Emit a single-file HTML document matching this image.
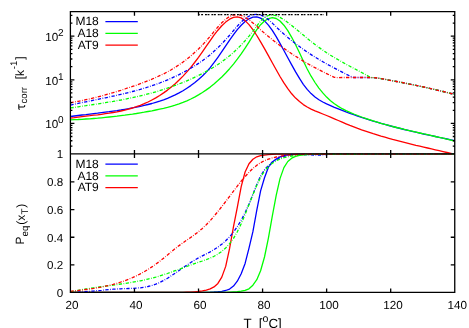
<!DOCTYPE html>
<html><head><meta charset="utf-8"><title>plot</title>
<style>html,body{margin:0;padding:0;background:#fff;overflow:hidden}svg{display:block;will-change:transform}text{font-family:"Liberation Sans",sans-serif;fill:#000;text-rendering:geometricPrecision}</style>
</head><body>
<svg width="469" height="328" viewBox="0 0 469 328">
<rect width="469" height="328" fill="#fff"/>
<defs><clipPath id="cu"><rect x="70.4" y="11.7" width="384.35" height="142.25"/></clipPath><clipPath id="cl"><rect x="70.4" y="153.45" width="384.35" height="139.45"/></clipPath></defs>
<g id="upper">
<path d="M70.4,116.5 L74.3,116.0 L78.2,115.5 L82.0,115.0 L85.9,114.6 L89.8,114.1 L93.7,113.6 L97.6,113.2 L101.5,112.7 L105.3,112.2 L109.2,111.7 L113.1,111.1 L117.0,110.6 L120.9,110.0 L124.8,109.3 L128.6,108.7 L132.5,107.9 L136.4,107.2 L140.3,106.3 L144.2,105.4 L148.0,104.5 L151.9,103.5 L155.8,102.3 L159.7,101.1 L163.6,99.8 L167.5,98.3 L171.3,96.7 L175.2,94.9 L179.1,92.9 L183.0,90.7 L186.9,88.2 L190.8,85.6 L194.6,82.7 L198.5,79.5 L202.4,76.0 L206.3,72.1 L210.2,67.7 L214.0,62.7 L217.9,57.3 L221.8,51.7 L225.7,45.9 L229.6,40.1 L233.5,34.7 L237.3,29.6 L241.2,25.2 L245.1,21.5 L249.0,18.8 L252.9,17.2 L256.8,16.9 L260.6,18.1 L264.5,20.9 L268.4,25.1 L272.3,30.4 L276.2,36.6 L280.0,43.4 L283.9,50.5 L287.8,57.8 L291.7,64.9 L295.6,71.9 L299.5,78.4 L303.3,84.3 L307.2,89.4 L311.1,93.6 L315.0,97.0 L318.9,99.8 L322.8,102.0 L326.6,103.9 L330.5,105.6 L334.4,107.3 L338.3,108.8 L342.2,110.4 L346.0,111.9 L349.9,113.3 L353.8,114.7 L357.7,116.1 L361.6,117.4 L365.5,118.6 L369.3,119.9 L373.2,121.1 L377.1,122.2 L381.0,123.3 L384.9,124.4 L388.8,125.5 L392.6,126.5 L396.5,127.5 L400.4,128.5 L404.3,129.5 L408.2,130.4 L412.0,131.3 L415.9,132.2 L419.8,133.1 L423.7,134.0 L427.6,134.8 L431.5,135.7 L435.3,136.5 L439.2,137.3 L443.1,138.2 L447.0,139.0 L450.9,139.8 L454.8,140.6" fill="none" stroke="#0000ff" stroke-width="1.3" clip-path="url(#cu)" stroke-linejoin="round"/>
<path d="M70.4,119.8 L74.3,119.6 L78.2,119.5 L82.0,119.3 L85.9,119.0 L89.8,118.8 L93.7,118.5 L97.6,118.2 L101.5,117.8 L105.3,117.4 L109.2,117.0 L113.1,116.6 L117.0,116.2 L120.9,115.7 L124.8,115.2 L128.6,114.6 L132.5,114.1 L136.4,113.5 L140.3,112.8 L144.2,112.2 L148.0,111.5 L151.9,110.8 L155.8,110.0 L159.7,109.2 L163.6,108.4 L167.5,107.4 L171.3,106.3 L175.2,105.2 L179.1,103.9 L183.0,102.4 L186.9,100.8 L190.8,99.0 L194.6,97.1 L198.5,94.9 L202.4,92.5 L206.3,89.9 L210.2,87.1 L214.0,84.0 L217.9,80.6 L221.8,77.0 L225.7,73.0 L229.6,68.7 L233.5,64.1 L237.3,59.2 L241.2,53.9 L245.1,48.2 L249.0,42.1 L252.9,35.7 L256.8,29.7 L260.6,24.7 L264.5,21.0 L268.4,18.6 L272.3,17.7 L276.2,18.5 L280.0,21.0 L283.9,25.2 L287.8,30.7 L291.7,37.3 L295.6,44.8 L299.5,52.8 L303.3,61.0 L307.2,69.0 L311.1,76.2 L315.0,82.5 L318.9,88.1 L322.8,92.9 L326.6,97.1 L330.5,100.7 L334.4,103.8 L338.3,106.4 L342.2,108.7 L346.0,110.7 L349.9,112.4 L353.8,114.0 L357.7,115.5 L361.6,117.0 L365.5,118.3 L369.3,119.7 L373.2,120.9 L377.1,122.1 L381.0,123.3 L384.9,124.4 L388.8,125.4 L392.6,126.5 L396.5,127.5 L400.4,128.4 L404.3,129.4 L408.2,130.3 L412.0,131.2 L415.9,132.1 L419.8,133.0 L423.7,133.9 L427.6,134.7 L431.5,135.6 L435.3,136.5 L439.2,137.4 L443.1,138.2 L447.0,139.2 L450.9,140.1 L454.8,141.0" fill="none" stroke="#00ff00" stroke-width="1.3" clip-path="url(#cu)" stroke-linejoin="round"/>
<path d="M70.4,118.2 L74.3,117.7 L78.2,117.1 L82.0,116.6 L85.9,116.1 L89.8,115.7 L93.7,115.2 L97.6,114.8 L101.5,114.3 L105.3,113.7 L109.2,113.2 L113.1,112.5 L117.0,111.8 L120.9,111.0 L124.8,110.1 L128.6,109.1 L132.5,108.0 L136.4,106.7 L140.3,105.3 L144.2,103.7 L148.0,102.0 L151.9,100.0 L155.8,97.9 L159.7,95.5 L163.6,92.9 L167.5,90.1 L171.3,87.0 L175.2,83.7 L179.1,80.0 L183.0,76.1 L186.9,71.9 L190.8,67.3 L194.6,62.5 L198.5,57.3 L202.4,51.8 L206.3,46.2 L210.2,40.6 L214.0,35.2 L217.9,30.2 L221.8,25.8 L225.7,22.1 L229.6,19.2 L233.5,17.4 L237.3,16.9 L241.2,17.9 L245.1,20.6 L249.0,24.6 L252.9,29.7 L256.8,35.5 L260.6,41.8 L264.5,48.6 L268.4,55.6 L272.3,62.7 L276.2,69.7 L280.0,76.5 L283.9,82.9 L287.8,88.7 L291.7,93.8 L295.6,98.1 L299.5,101.6 L303.3,104.6 L307.2,107.0 L311.1,109.1 L315.0,110.9 L318.9,112.4 L322.8,114.0 L326.6,115.5 L330.5,117.1 L334.4,118.8 L338.3,120.5 L342.2,122.2 L346.0,123.8 L349.9,125.4 L353.8,126.9 L357.7,128.4 L361.6,129.8 L365.5,131.1 L369.3,132.4 L373.2,133.7 L377.1,134.9 L381.0,136.1 L384.9,137.2 L388.8,138.3 L392.6,139.4 L396.5,140.4 L400.4,141.4 L404.3,142.4 L408.2,143.4 L412.0,144.3 L415.9,145.3 L419.8,146.2 L423.7,147.1 L427.6,148.0 L431.5,148.9 L435.3,149.8 L439.2,150.7 L443.1,151.6 L447.0,152.5 L450.9,153.4 L454.8,154.3" fill="none" stroke="#ff0000" stroke-width="1.3" clip-path="url(#cu)" stroke-linejoin="round"/>
<path d="M70.4,105.1 L74.3,104.2 L78.2,103.4 L82.0,102.6 L85.9,101.8 L89.8,101.0 L93.7,100.2 L97.6,99.4 L101.5,98.6 L105.3,97.8 L109.2,97.0 L113.1,96.1 L117.0,95.3 L120.9,94.4 L124.8,93.5 L128.6,92.5 L132.5,91.5 L136.4,90.5 L140.3,89.4 L144.2,88.2 L148.0,87.0 L151.9,85.7 L155.8,84.4 L159.7,83.0 L163.6,81.5 L167.5,79.9 L171.3,78.2 L175.2,76.4 L179.1,74.6 L183.0,72.6 L186.9,70.5 L190.8,68.3 L194.6,65.9 L198.5,63.4 L202.4,60.7 L206.3,57.8 L210.2,54.7 L214.0,51.3 L217.9,47.7 L221.8,43.8 L225.7,39.6 L229.6,35.2 L233.5,30.6 L237.3,26.1 L241.2,22.0 L245.1,18.6 L249.0,16.2 L252.9,14.7 L256.8,14.3 L260.6,15.0 L264.5,16.8 L268.4,19.6 L272.3,23.1 L276.2,26.9 L280.0,30.5 L283.9,34.1 L287.8,37.4 L291.7,40.7 L295.6,43.7 L299.5,46.6 L303.3,49.4 L307.2,52.1 L311.1,54.6 L315.0,57.1 L318.9,59.4 L322.8,61.7 L326.6,63.9 L330.5,66.0 L334.4,68.1 L338.3,70.1 L342.2,72.1 L346.0,74.1 L349.9,76.0 L352.3,77.2 L353.8,77.5 L357.7,77.5 L361.6,77.5 L365.5,77.5 L369.3,77.5 L373.2,77.6 L377.1,78.0 L381.0,78.6 L384.9,79.3 L388.8,80.1 L392.6,80.8 L396.5,81.5 L400.4,82.2 L404.3,83.0 L408.2,83.8 L412.0,84.6 L415.9,85.4 L419.8,86.2 L423.7,87.0 L427.6,87.9 L431.5,88.8 L435.3,89.7 L439.2,90.6 L443.1,91.5 L447.0,92.5 L450.9,93.5 L454.8,94.5" fill="none" stroke="#0000ff" stroke-width="1.3" stroke-dasharray="3.3 1.5 0.7 1.5" clip-path="url(#cu)" stroke-linejoin="round"/>
<path d="M70.4,107.9 L74.3,107.4 L78.2,106.8 L82.0,106.2 L85.9,105.7 L89.8,105.1 L93.7,104.5 L97.6,103.9 L101.5,103.3 L105.3,102.7 L109.2,102.0 L113.1,101.4 L117.0,100.7 L120.9,100.0 L124.8,99.2 L128.6,98.4 L132.5,97.6 L136.4,96.7 L140.3,95.8 L144.2,94.9 L148.0,93.9 L151.9,92.9 L155.8,91.8 L159.7,90.6 L163.6,89.4 L167.5,88.1 L171.3,86.8 L175.2,85.4 L179.1,83.9 L183.0,82.4 L186.9,80.8 L190.8,79.1 L194.6,77.3 L198.5,75.4 L202.4,73.5 L206.3,71.4 L210.2,69.3 L214.0,67.0 L217.9,64.5 L221.8,61.8 L225.7,58.9 L229.6,55.8 L233.5,52.5 L237.3,48.8 L241.2,44.9 L245.1,40.7 L249.0,36.1 L252.9,31.2 L256.8,26.0 L260.6,21.1 L264.5,17.4 L268.4,15.4 L272.3,14.9 L276.2,15.7 L280.0,17.4 L283.9,19.7 L287.8,22.6 L291.7,25.6 L295.6,28.7 L299.5,31.9 L303.3,35.1 L307.2,38.3 L311.1,41.5 L315.0,44.5 L318.9,47.4 L322.8,50.1 L326.6,52.7 L330.5,55.2 L334.4,57.5 L338.3,59.8 L342.2,62.0 L346.0,64.2 L349.9,66.3 L353.8,68.3 L357.7,70.4 L361.6,72.5 L365.5,74.6 L369.3,76.7 L370.8,77.5 L373.2,77.6 L377.1,78.0 L381.0,78.6 L384.9,79.3 L388.8,80.1 L392.6,80.8 L396.5,81.5 L400.4,82.2 L404.3,83.0 L408.2,83.8 L412.0,84.6 L415.9,85.4 L419.8,86.2 L423.7,87.0 L427.6,87.9 L431.5,88.8 L435.3,89.7 L439.2,90.6 L443.1,91.5 L447.0,92.5 L450.9,93.5 L454.8,94.5" fill="none" stroke="#00ff00" stroke-width="1.3" stroke-dasharray="3.3 1.5 0.7 1.5" clip-path="url(#cu)" stroke-linejoin="round"/>
<path d="M70.4,102.7 L74.3,102.0 L78.2,101.3 L82.0,100.5 L85.9,99.7 L89.8,98.9 L93.7,97.9 L97.6,97.0 L101.5,96.0 L105.3,94.9 L109.2,93.8 L113.1,92.7 L117.0,91.5 L120.9,90.3 L124.8,89.0 L128.6,87.7 L132.5,86.4 L136.4,85.1 L140.3,83.7 L144.2,82.2 L148.0,80.7 L151.9,79.2 L155.8,77.5 L159.7,75.7 L163.6,73.9 L167.5,71.8 L171.3,69.7 L175.2,67.3 L179.1,64.8 L183.0,62.1 L186.9,59.2 L190.8,56.0 L194.6,52.6 L198.5,49.0 L202.4,45.0 L206.3,40.8 L210.2,36.3 L214.0,31.6 L217.9,27.0 L221.8,22.8 L225.7,19.2 L229.6,16.5 L233.5,15.0 L237.3,14.7 L241.2,15.4 L245.1,17.2 L249.0,19.8 L252.9,22.9 L256.8,26.3 L260.6,29.8 L264.5,33.2 L268.4,36.4 L272.3,39.6 L276.2,42.6 L280.0,45.6 L283.9,48.4 L287.8,51.1 L291.7,53.8 L295.6,56.3 L299.5,58.7 L303.3,61.1 L307.2,63.4 L311.1,65.5 L315.0,67.7 L318.9,69.7 L322.8,71.7 L326.6,73.6 L330.5,75.5 L334.4,77.3 L336.0,77.6 L338.3,77.6 L342.2,77.5 L346.0,77.5 L349.9,77.5 L353.8,77.5 L357.7,77.5 L361.6,77.5 L365.5,77.5 L369.3,77.5 L373.2,77.6 L377.1,78.0 L381.0,78.6 L384.9,79.3 L388.8,80.1 L392.6,80.8 L396.5,81.5 L400.4,82.2 L404.3,83.0 L408.2,83.8 L412.0,84.6 L415.9,85.4 L419.8,86.2 L423.7,87.0 L427.6,87.9 L431.5,88.8 L435.3,89.7 L439.2,90.6 L443.1,91.5 L447.0,92.5 L450.9,93.5 L454.8,94.5" fill="none" stroke="#ff0000" stroke-width="1.3" stroke-dasharray="3.3 1.5 0.7 1.5" clip-path="url(#cu)" stroke-linejoin="round"/>
</g>
<path d="M198.7,14.5 h1" stroke="#000" stroke-width="1.25" fill="none"/>
<path d="M201.15,14.5 H323.43" stroke="#000" stroke-width="1.25" stroke-dasharray="1.9 1.95 1.9 0.65" fill="none"/>
<g id="lower">
<path d="M70.4,292.4 L74.3,292.4 L78.2,292.4 L82.0,292.4 L85.9,292.4 L89.8,292.4 L93.7,292.4 L97.6,292.4 L101.5,292.4 L105.3,292.4 L109.2,292.4 L113.1,292.4 L117.0,292.4 L120.9,292.4 L124.8,292.4 L128.6,292.4 L132.5,292.4 L136.4,292.4 L140.3,292.4 L144.2,292.4 L148.0,292.4 L151.9,292.4 L155.8,292.4 L159.7,292.4 L163.6,292.4 L167.5,292.4 L171.3,292.4 L175.2,292.3 L179.1,292.3 L183.0,292.3 L186.9,292.3 L190.8,292.3 L194.6,292.3 L198.5,292.3 L202.4,292.3 L206.3,292.3 L210.2,292.2 L214.0,292.0 L217.9,291.7 L221.8,291.3 L225.7,290.5 L229.6,289.1 L233.5,286.1 L237.3,281.2 L241.2,273.7 L245.1,263.4 L249.0,248.1 L252.9,231.7 L256.8,210.2 L260.6,190.9 L264.5,177.8 L268.4,167.2 L272.3,162.0 L276.2,159.0 L280.0,156.9 L283.9,155.6 L287.8,154.9 L291.7,154.5 L295.6,154.2 L299.5,154.2 L303.3,154.1 L307.2,154.1 L311.1,154.0 L315.0,154.0 L318.9,154.0 L322.8,154.0 L326.6,154.0 L330.5,153.9 L334.4,153.9 L338.3,153.9 L342.2,153.9 L346.0,153.9 L349.9,153.9 L353.8,153.9 L357.7,153.9 L361.6,153.9 L365.5,153.9 L369.3,153.9 L373.2,153.9 L377.1,153.9 L381.0,153.9 L384.9,153.9 L388.8,153.9 L392.6,153.9 L396.5,153.9 L400.4,153.9 L404.3,153.9 L408.2,153.9 L412.0,153.9 L415.9,153.9 L419.8,153.9 L423.7,153.9 L427.6,153.9 L431.5,153.9 L435.3,153.9 L439.2,153.9 L443.1,153.9 L447.0,153.9 L450.9,153.9 L454.8,153.9" fill="none" stroke="#0000ff" stroke-width="1.3" clip-path="url(#cl)" stroke-linejoin="round"/>
<path d="M70.4,292.4 L74.3,292.4 L78.2,292.4 L82.0,292.4 L85.9,292.4 L89.8,292.4 L93.7,292.4 L97.6,292.4 L101.5,292.4 L105.3,292.4 L109.2,292.4 L113.1,292.4 L117.0,292.4 L120.9,292.4 L124.8,292.4 L128.6,292.4 L132.5,292.4 L136.4,292.4 L140.3,292.4 L144.2,292.4 L148.0,292.4 L151.9,292.4 L155.8,292.4 L159.7,292.4 L163.6,292.4 L167.5,292.4 L171.3,292.4 L175.2,292.4 L179.1,292.4 L183.0,292.4 L186.9,292.4 L190.8,292.3 L194.6,292.3 L198.5,292.3 L202.4,292.3 L206.3,292.3 L210.2,292.3 L214.0,292.3 L217.9,292.3 L221.8,292.3 L225.7,292.3 L229.6,292.1 L233.5,291.9 L237.3,291.7 L241.2,291.2 L245.1,290.4 L249.0,288.8 L252.9,285.2 L256.8,279.7 L260.6,270.8 L264.5,257.0 L268.4,238.1 L272.3,216.2 L276.2,195.4 L280.0,178.6 L283.9,167.6 L287.8,161.5 L291.7,158.2 L295.6,156.3 L299.5,155.4 L303.3,154.9 L307.2,154.6 L311.1,154.3 L315.0,154.2 L318.9,154.1 L322.8,154.0 L326.6,154.0 L330.5,153.9 L334.4,153.9 L338.3,153.9 L342.2,153.9 L346.0,153.9 L349.9,153.9 L353.8,153.9 L357.7,153.9 L361.6,153.9 L365.5,153.9 L369.3,153.9 L373.2,153.9 L377.1,153.9 L381.0,153.9 L384.9,153.9 L388.8,153.9 L392.6,153.9 L396.5,153.9 L400.4,153.9 L404.3,153.9 L408.2,153.9 L412.0,153.9 L415.9,153.9 L419.8,153.9 L423.7,153.9 L427.6,153.9 L431.5,153.9 L435.3,153.9 L439.2,153.9 L443.1,153.9 L447.0,153.9 L450.9,153.9 L454.8,153.9" fill="none" stroke="#00ff00" stroke-width="1.3" clip-path="url(#cl)" stroke-linejoin="round"/>
<path d="M70.4,292.4 L74.3,292.4 L78.2,292.4 L82.0,292.4 L85.9,292.4 L89.8,292.4 L93.7,292.4 L97.6,292.4 L101.5,292.4 L105.3,292.4 L109.2,292.4 L113.1,292.4 L117.0,292.4 L120.9,292.4 L124.8,292.4 L128.6,292.4 L132.5,292.4 L136.4,292.4 L140.3,292.4 L144.2,292.4 L148.0,292.4 L151.9,292.4 L155.8,292.4 L159.7,292.3 L163.6,292.3 L167.5,292.3 L171.3,292.3 L175.2,292.3 L179.1,292.3 L183.0,292.3 L186.9,292.2 L190.8,292.1 L194.6,291.8 L198.5,291.5 L202.4,290.9 L206.3,290.1 L210.2,288.9 L214.0,286.9 L217.9,283.4 L221.8,277.1 L225.7,266.4 L229.6,248.4 L233.5,226.6 L237.3,207.3 L241.2,186.7 L245.1,172.0 L249.0,163.7 L252.9,159.2 L256.8,156.8 L260.6,155.7 L264.5,155.1 L268.4,154.6 L272.3,154.3 L276.2,154.2 L280.0,154.2 L283.9,154.1 L287.8,154.1 L291.7,154.1 L295.6,154.1 L299.5,154.0 L303.3,154.0 L307.2,154.0 L311.1,154.0 L315.0,154.0 L318.9,154.0 L322.8,154.0 L326.6,154.0 L330.5,153.9 L334.4,153.9 L338.3,153.9 L342.2,153.9 L346.0,153.9 L349.9,153.9 L353.8,153.9 L357.7,153.9 L361.6,153.9 L365.5,153.9 L369.3,153.9 L373.2,153.9 L377.1,153.9 L381.0,153.9 L384.9,153.9 L388.8,153.9 L392.6,153.9 L396.5,153.9 L400.4,153.9 L404.3,153.9 L408.2,153.9 L412.0,153.9 L415.9,153.9 L419.8,153.9 L423.7,153.9 L427.6,153.9 L431.5,153.9 L435.3,153.9 L439.2,153.9 L443.1,153.9 L447.0,153.9 L450.9,153.9 L454.8,153.9" fill="none" stroke="#ff0000" stroke-width="1.3" clip-path="url(#cl)" stroke-linejoin="round"/>
<path d="M70.4,292.2 L74.3,292.2 L78.2,292.1 L82.0,291.9 L85.9,291.6 L89.8,291.3 L93.7,291.0 L97.6,290.6 L101.5,290.3 L105.3,289.9 L109.2,289.6 L113.1,289.2 L117.0,289.0 L120.9,288.8 L124.8,288.6 L128.6,288.5 L132.5,288.4 L136.4,288.1 L140.3,287.8 L144.2,287.2 L148.0,286.5 L151.9,285.5 L155.8,284.2 L159.7,282.5 L163.6,280.5 L167.5,278.3 L171.3,275.8 L175.2,273.2 L179.1,270.5 L183.0,267.7 L186.9,265.1 L190.8,262.5 L194.6,260.1 L198.5,257.9 L202.4,255.9 L206.3,253.9 L210.2,251.9 L214.0,249.6 L217.9,247.1 L221.8,244.2 L225.7,240.8 L229.6,236.8 L233.5,232.1 L237.3,226.6 L241.2,220.2 L245.1,212.7 L249.0,204.1 L252.9,194.3 L256.8,184.5 L260.6,175.9 L264.5,169.7 L268.4,165.5 L272.3,162.3 L276.2,159.8 L280.0,157.8 L283.9,156.4 L287.8,155.4 L291.7,154.8 L295.6,154.5 L299.5,154.4 L303.3,154.5 L307.2,154.7 L311.1,154.9 L315.0,155.0 L318.9,155.1 L322.8,154.9 L326.6,154.5 L330.0,153.9 L454.5,153.9" fill="none" stroke="#0000ff" stroke-width="1.3" stroke-dasharray="3.3 1.5 0.7 1.5" clip-path="url(#cl)" stroke-linejoin="round"/>
<path d="M70.4,291.9 L74.3,291.1 L78.2,290.3 L82.0,289.6 L85.9,289.0 L89.8,288.4 L93.7,287.8 L97.6,287.2 L101.5,286.7 L105.3,286.2 L109.2,285.6 L113.1,285.1 L117.0,284.6 L120.9,284.0 L124.8,283.5 L128.6,282.9 L132.5,282.2 L136.4,281.5 L140.3,280.8 L144.2,280.0 L148.0,279.1 L151.9,278.1 L155.8,277.1 L159.7,276.0 L163.6,274.7 L167.5,273.5 L171.3,272.1 L175.2,270.7 L179.1,269.3 L183.0,267.9 L186.9,266.4 L190.8,265.0 L194.6,263.6 L198.5,262.3 L202.4,261.0 L206.3,259.6 L210.2,258.1 L214.0,256.3 L217.9,254.1 L221.8,251.4 L225.7,247.9 L229.6,243.7 L233.5,238.4 L237.3,231.8 L241.2,223.8 L245.1,214.5 L249.0,204.6 L252.9,194.6 L256.8,185.3 L260.6,177.3 L264.5,171.1 L268.4,166.5 L272.3,163.3 L276.2,160.8 L280.0,159.0 L283.9,157.7 L287.8,156.7 L291.7,156.0 L295.6,155.4 L299.5,155.0 L303.3,154.6 L307.2,154.4 L311.1,154.2 L315.0,154.1 L318.9,154.1 L322.8,154.0 L326.6,154.0 L330.0,154.0 L454.5,153.9" fill="none" stroke="#00ff00" stroke-width="1.3" stroke-dasharray="3.3 1.5 0.7 1.5" clip-path="url(#cl)" stroke-linejoin="round"/>
<path d="M70.4,291.3 L74.3,290.9 L78.2,290.5 L82.0,290.0 L85.9,289.5 L89.8,289.0 L93.7,288.4 L97.6,287.7 L101.5,287.0 L105.3,286.2 L109.2,285.3 L113.1,284.4 L117.0,283.3 L120.9,282.0 L124.8,280.7 L128.6,279.2 L132.5,277.6 L136.4,275.8 L140.3,273.9 L144.2,271.7 L148.0,269.4 L151.9,266.9 L155.8,264.2 L159.7,261.3 L163.6,258.2 L167.5,255.0 L171.3,251.8 L175.2,248.6 L179.1,245.6 L183.0,242.8 L186.9,240.0 L190.8,237.4 L194.6,234.6 L198.5,231.7 L202.4,228.4 L206.3,224.7 L210.2,220.7 L214.0,216.2 L217.9,211.5 L221.8,206.6 L225.7,201.5 L229.6,196.3 L233.5,191.2 L237.3,186.1 L241.2,181.2 L245.1,176.6 L249.0,172.3 L252.9,168.5 L256.8,165.3 L260.6,162.7 L264.5,160.6 L268.4,159.1 L272.3,157.9 L276.2,157.0 L280.0,156.3 L283.9,155.7 L287.8,155.2 L291.7,154.8 L295.6,154.6 L299.5,154.4 L303.3,154.2 L307.2,154.1 L311.1,154.1 L315.0,154.1 L318.9,154.0 L322.8,154.0 L326.6,154.0 L330.0,153.9 L454.5,153.9" fill="none" stroke="#ff0000" stroke-width="1.3" stroke-dasharray="3.3 1.5 0.7 1.5" clip-path="url(#cl)" stroke-linejoin="round"/>
</g>
<path d="M70.4,11.7 H454.75 V292.4 H70.4 Z M70.4,153.95 H454.75 M134.46,11.7 v4.0 M134.46,149.95 v8.0 M134.46,292.4 v-4.0 M198.52,11.7 v4.0 M198.52,149.95 v8.0 M198.52,292.4 v-4.0 M262.58,11.7 v4.0 M262.58,149.95 v8.0 M262.58,292.4 v-4.0 M326.63,11.7 v4.0 M326.63,149.95 v8.0 M326.63,292.4 v-4.0 M390.69,11.7 v4.0 M390.69,149.95 v8.0 M390.69,292.4 v-4.0 M70.4,146.20 h2.0 M454.75,146.20 h-2.0 M70.4,140.75 h2.0 M454.75,140.75 h-2.0 M70.4,136.52 h2.0 M454.75,136.52 h-2.0 M70.4,133.07 h2.0 M454.75,133.07 h-2.0 M70.4,130.15 h2.0 M454.75,130.15 h-2.0 M70.4,127.63 h2.0 M454.75,127.63 h-2.0 M70.4,125.40 h2.0 M454.75,125.40 h-2.0 M70.4,123.40 h4.0 M454.75,123.40 h-4.0 M70.4,110.28 h2.0 M454.75,110.28 h-2.0 M70.4,102.60 h2.0 M454.75,102.60 h-2.0 M70.4,97.15 h2.0 M454.75,97.15 h-2.0 M70.4,92.92 h2.0 M454.75,92.92 h-2.0 M70.4,89.47 h2.0 M454.75,89.47 h-2.0 M70.4,86.55 h2.0 M454.75,86.55 h-2.0 M70.4,84.03 h2.0 M454.75,84.03 h-2.0 M70.4,81.80 h2.0 M454.75,81.80 h-2.0 M70.4,79.80 h4.0 M454.75,79.80 h-4.0 M70.4,66.68 h2.0 M454.75,66.68 h-2.0 M70.4,59.00 h2.0 M454.75,59.00 h-2.0 M70.4,53.55 h2.0 M454.75,53.55 h-2.0 M70.4,49.32 h2.0 M454.75,49.32 h-2.0 M70.4,45.87 h2.0 M454.75,45.87 h-2.0 M70.4,42.95 h2.0 M454.75,42.95 h-2.0 M70.4,40.43 h2.0 M454.75,40.43 h-2.0 M70.4,38.20 h2.0 M454.75,38.20 h-2.0 M70.4,36.20 h4.0 M454.75,36.20 h-4.0 M70.4,23.08 h2.0 M454.75,23.08 h-2.0 M70.4,15.40 h2.0 M454.75,15.40 h-2.0 M70.4,264.96 h4.0 M454.75,264.96 h-4.0 M70.4,237.27 h4.0 M454.75,237.27 h-4.0 M70.4,209.58 h4.0 M454.75,209.58 h-4.0 M70.4,181.89 h4.0 M454.75,181.89 h-4.0" fill="none" stroke="#000" stroke-width="1.3"/>
<text x="63.2" y="296.90" font-size="11.6" text-anchor="end">0</text>
<text x="63.2" y="269.21" font-size="11.6" text-anchor="end">0.2</text>
<text x="63.2" y="241.52" font-size="11.6" text-anchor="end">0.4</text>
<text x="63.2" y="213.83" font-size="11.6" text-anchor="end">0.6</text>
<text x="63.2" y="186.14" font-size="11.6" text-anchor="end">0.8</text>
<text x="63.2" y="158.45" font-size="11.6" text-anchor="end">1</text>
<text x="58.2" y="128.40" font-size="11.7" text-anchor="end">10</text>
<text x="57.9" y="123.20" font-size="10" text-anchor="start">0</text>
<text x="58.2" y="84.80" font-size="11.7" text-anchor="end">10</text>
<text x="57.9" y="79.60" font-size="10" text-anchor="start">1</text>
<text x="58.2" y="41.20" font-size="11.7" text-anchor="end">10</text>
<text x="57.9" y="36.00" font-size="10" text-anchor="start">2</text>
<text x="71.90" y="309.3" font-size="11.7" text-anchor="middle">20</text>
<text x="135.96" y="309.3" font-size="11.7" text-anchor="middle">40</text>
<text x="200.02" y="309.3" font-size="11.7" text-anchor="middle">60</text>
<text x="264.08" y="309.3" font-size="11.7" text-anchor="middle">80</text>
<text x="329.03" y="309.3" font-size="11.7" text-anchor="middle">100</text>
<text x="393.09" y="309.3" font-size="11.7" text-anchor="middle">120</text>
<text x="457.15" y="309.3" font-size="11.7" text-anchor="middle">140</text>
<text x="98.8" y="25.15" font-size="12" text-anchor="end">M18</text>
<path d="M105.4,21.55 H137.8" stroke="#0000ff" stroke-width="1.3" fill="none"/>
<text x="98.8" y="36.90" font-size="12" text-anchor="end">A18</text>
<path d="M105.4,33.30 H137.8" stroke="#00ff00" stroke-width="1.3" fill="none"/>
<text x="98.8" y="48.65" font-size="12" text-anchor="end">AT9</text>
<path d="M105.4,45.05 H137.8" stroke="#ff0000" stroke-width="1.3" fill="none"/>
<text x="98.8" y="167.80" font-size="12" text-anchor="end">M18</text>
<path d="M105.4,164.20 H137.8" stroke="#0000ff" stroke-width="1.3" fill="none"/>
<text x="98.8" y="179.55" font-size="12" text-anchor="end">A18</text>
<path d="M105.4,175.95 H137.8" stroke="#00ff00" stroke-width="1.3" fill="none"/>
<text x="98.8" y="191.30" font-size="12" text-anchor="end">AT9</text>
<path d="M105.4,187.70 H137.8" stroke="#ff0000" stroke-width="1.3" fill="none"/>
<text x="243.6" y="328.2" font-size="13.3" xml:space="preserve">T  [<tspan font-size="10.6" dy="-6.5">o</tspan><tspan dy="6.5">C]</tspan></text>
<path transform="translate(25.7,110.3) rotate(-90)" d="M0.7,-6.0 Q0.8,-6.9 1.7,-6.9 L6.0,-6.9 M3.3,-6.9 L3.3,-2.3 Q3.3,-0.6 5.1,-1.1" fill="none" stroke="#000" stroke-width="1.05"/>
<text transform="translate(24.1,110.3) rotate(-90)" font-size="12" xml:space="preserve"><tspan font-size="9.6" x="6.8" dy="3.3">corr</tspan><tspan dy="-3.3" dx="1.1">  [k</tspan><tspan font-size="9.6" dy="-7.2" dx="0.6">-1</tspan><tspan dy="7.2" dx="1.0">]</tspan></text>
<text transform="translate(23.7,244.4) rotate(-90)" font-size="12" xml:space="preserve">P<tspan font-size="9.6" dy="3.8">eq</tspan><tspan dy="-2.6" dx="1">(x</tspan><tspan font-size="9.6" dy="2.6" dx="0.3">T</tspan><tspan dy="-2.6" dx="0.9">)</tspan></text>
</svg></body></html>
